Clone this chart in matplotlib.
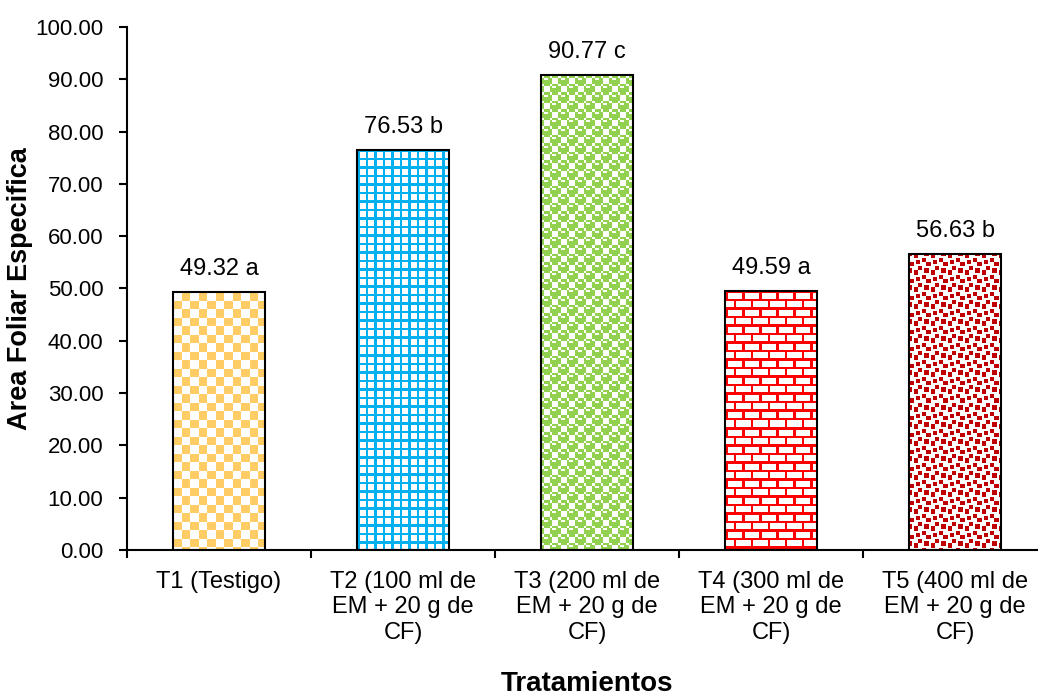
import numpy as np
import matplotlib
matplotlib.use("Agg")
import matplotlib.pyplot as plt
from matplotlib.colors import to_rgb

plt.rcParams['font.family'] = ['Liberation Sans', 'DejaVu Sans']

# ------------------------------------------------------------------ #
#  Datos                                                               #
# ------------------------------------------------------------------ #
tratamientos = [
    "T1 (Testigo)",
    "T2 (100 ml de\nEM + 20 g de\nCF)",
    "T3 (200 ml de\nEM + 20 g de\nCF)",
    "T4 (300 ml de\nEM + 20 g de\nCF)",
    "T5 (400 ml de\nEM + 20 g de\nCF)",
]
afe = [49.32, 76.53, 90.77, 49.59, 56.63]
letras = ["a", "b", "c", "a", "b"]

colores = ["#FFCC66", "#00B0F0", "#92D050", "#FF0000", "#C00000"]

# motivos 8x8 (un byte por fila, bit 1 = color del motivo)
motivos = [
    [0x0f, 0x0f, 0x0f, 0x0f, 0xf0, 0xf0, 0xf0, 0xf0],   # damero grande
    [0xff, 0x88, 0x88, 0x88, 0xff, 0x88, 0x88, 0x88],   # cuadricula
    [0x77, 0x98, 0xf8, 0xf8, 0x77, 0x89, 0x8f, 0x8f],   # esferas
    [0xff, 0x80, 0x80, 0x80, 0xff, 0x08, 0x08, 0x08],   # ladrillo
    [0xb1, 0x30, 0x03, 0x1b, 0xd8, 0xc0, 0x0c, 0x8d],   # confeti
]

ESCALA = 2.125  # pixeles de pantalla por pixel del motivo


def imagen_motivo(filas, color, w, h):
    bits = np.array([[(r >> (7 - k)) & 1 for k in range(8)] for r in filas])
    yy, xx = np.mgrid[0:h, 0:w]
    masque = bits[(yy / ESCALA).astype(int) % 8, (xx / ESCALA).astype(int) % 8]
    img = np.ones((h, w, 3))
    img[masque == 1] = to_rgb(color)
    return img


# ------------------------------------------------------------------ #
#  Figura                                                              #
# ------------------------------------------------------------------ #
W, H = 1038, 695
fig = plt.figure(figsize=(W / 100, H / 100), dpi=100)
ax = fig.add_axes([127 / W, (H - 550) / H, 920 / W, 523 / H])

x = np.arange(len(afe))
ancho = 0.5
ax.set_xlim(-0.5, len(afe) - 0.5)
ax.set_ylim(0, 100)

for i, v in enumerate(afe):
    x0, x1 = x[i] - ancho / 2, x[i] + ancho / 2
    (px0, py0), (px1, py1) = ax.transData.transform([(x0, 0), (x1, v)])
    w_px, h_px = int(round(px1 - px0)), int(round(py1 - py0))
    img = imagen_motivo(motivos[i], colores[i], w_px, h_px)
    ax.imshow(img, extent=(x0, x1, 0, v), aspect='auto',
              interpolation='nearest', zorder=1)
    ax.bar(x[i], v, width=ancho, facecolor='none', edgecolor='black',
           linewidth=1.5, zorder=2)
    ax.annotate(f"{v:.2f} {letras[i]}", (x[i], v), xytext=(0, 12.2),
                textcoords='offset points', ha='center', va='baseline',
                fontsize=17)

ax.set_xlim(-0.5, len(afe) - 0.5)
ax.set_ylim(0, 100)

ax.set_yticks(np.arange(0, 101, 10))
ax.set_yticklabels([f"{t:.2f}" for t in np.arange(0, 101, 10)])
ax.set_xticks(x)
ax.set_xticklabels(tratamientos, linespacing=1.2)
ax.set_xticks(np.arange(-0.5, len(afe), 1), minor=True)
ax.tick_params(axis='x', which='major', length=0, pad=15, labelsize=17)
ax.tick_params(axis='x', which='minor', length=6, width=1.5, direction='out')
ax.tick_params(axis='y', length=6, width=1.5, pad=11, labelsize=16)

for s in ['top', 'right']:
    ax.spines[s].set_visible(False)
for s in ['left', 'bottom']:
    ax.spines[s].set_linewidth(1.5)

fig.text(20 / W, 1 - 289 / H, "Area Foliar Especifica", rotation=90,
         ha='center', va='center', fontsize=19.5, fontweight='bold')
fig.text(587 / W, 1 - 684 / H, "Tratamientos",
         ha='center', va='center', fontsize=20, fontweight='bold')

fig.savefig("out.png", dpi=100)
